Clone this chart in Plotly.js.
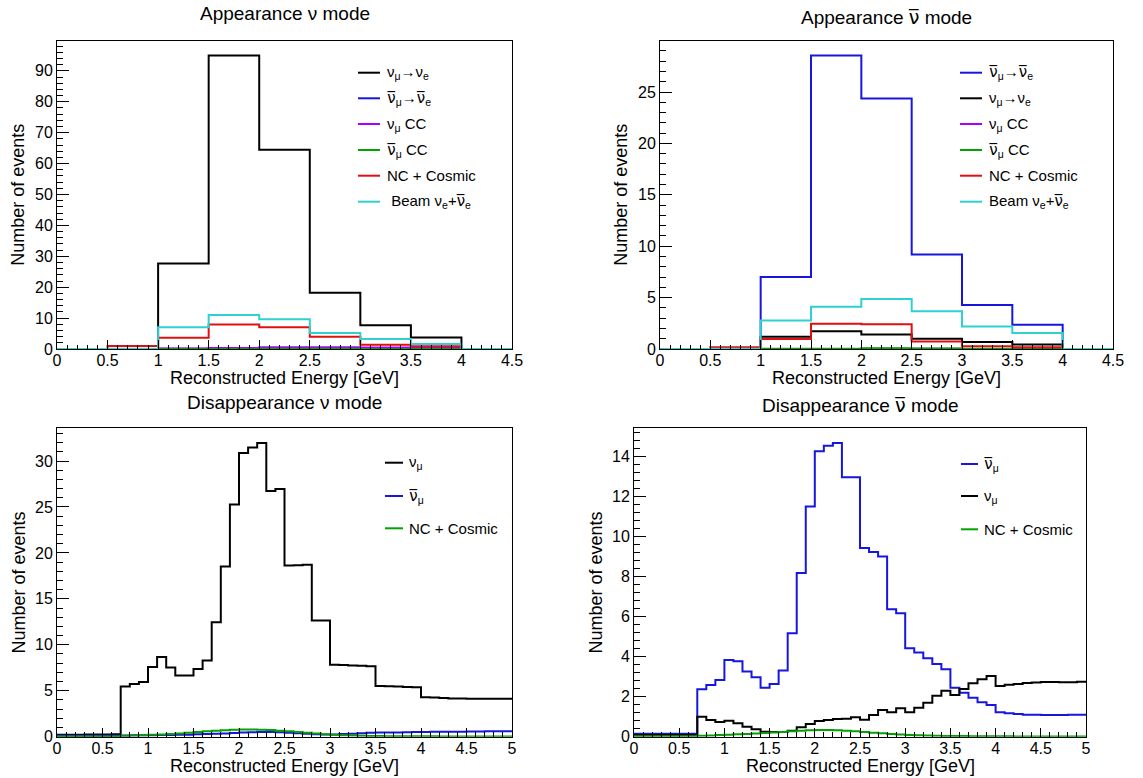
<!DOCTYPE html>
<html>
<head>
<meta charset="utf-8">
<script src="https://cdn.plot.ly/plotly-3.0.1.min.js"></script>
<style>
  html, body { margin: 0; padding: 0; background: #ffffff; }
  #plot { width: 1143px; height: 778px; }
</style>
</head>
<body>
<div id="plot"></div>
<script>
// ---------- Appearance spectra: 0.5 GeV bins, 0 - 4.5 GeV ----------
const appEdges = [0, 0.5, 1, 1.5, 2, 2.5, 3, 3.5, 4, 4.5];

// neutrino beam mode
const nuApp_numuNue     = [0, 0, 27.7, 95.0, 64.5, 18.2, 7.7, 3.7, 0];
const nuApp_numubarNue  = [0, 0, 0.1, 0.3, 0.3, 0.2, 0.15, 0.1, 0];
const nuApp_numuCC      = [0, 0, 0.2, 0.3, 0.6, 0.6, 0.5, 0.3, 0];
const nuApp_numubarCC   = [0, 0, 0, 0, 0.05, 0.05, 0, 0, 0];
const nuApp_ncCosmic    = [0, 1.0, 3.6, 7.9, 7.0, 4.0, 1.4, 0.9, 0];
const nuApp_beamNue     = [0, 0.05, 7.0, 11.0, 9.6, 5.2, 3.2, 1.6, 0];

// antineutrino beam mode
const anuApp_numubarNue = [0, 0, 7.0, 28.56, 24.37, 9.2, 4.28, 2.37, 0];
const anuApp_numuNue    = [0, 0, 1.2, 1.73, 1.4, 1.0, 0.67, 0.43, 0];
const anuApp_numuCC     = [0, 0, 0, 0, 0.02, 0.02, 0, 0, 0];
const anuApp_numubarCC  = [0, 0, 0.03, 0.03, 0.08, 0.06, 0.02, 0.01, 0];
const anuApp_ncCosmic   = [0, 0.16, 0.97, 2.46, 2.4, 0.73, 0.27, 0.17, 0];
const anuApp_beamNue    = [0, 0.02, 2.78, 4.12, 4.87, 3.67, 2.2, 1.56, 0];

// ---------- Disappearance spectra: 0.1 GeV bins, 0 - 5 GeV ----------
const disEdges = [0, 0.1, 0.2, 0.3, 0.4, 0.5, 0.6, 0.7, 0.8, 0.9,
                  1.0, 1.1, 1.2, 1.3, 1.4, 1.5, 1.6, 1.7, 1.8, 1.9,
                  2.0, 2.1, 2.2, 2.3, 2.4, 2.5, 2.6, 2.7, 2.8, 2.9,
                  3.0, 3.1, 3.2, 3.3, 3.4, 3.5, 3.6, 3.7, 3.8, 3.9,
                  4.0, 4.1, 4.2, 4.3, 4.4, 4.5, 4.6, 4.7, 4.8, 4.9, 5.0];

// neutrino beam mode
const nuDis_numu = [0.20, 0.21, 0.22, 0.23, 0.24, 0.25, 0.26,
                    5.45, 5.74, 5.96, 7.59, 8.68, 7.52, 6.65, 6.65,
                    7.37, 8.28, 12.46, 18.52, 25.28,
                    30.87, 31.48, 31.96, 26.73, 26.95,
                    18.63, 18.66, 18.70, 12.64, 12.64,
                    7.82, 7.79, 7.76, 7.72, 7.66,
                    5.52, 5.49, 5.46, 5.42, 5.38,
                    4.29, 4.26, 4.22, 4.16, 4.15, 4.14, 4.14, 4.13, 4.13, 4.12];
const nuDis_numubar = [0.10, 0.10, 0.10, 0.10, 0.10, 0.10, 0.10,
                       0.14, 0.15, 0.16, 0.17, 0.18, 0.18, 0.20, 0.22,
                       0.28, 0.30, 0.33, 0.36, 0.40,
                       0.45, 0.48, 0.50, 0.50, 0.48,
                       0.42, 0.38, 0.33, 0.28, 0.25,
                       0.25, 0.30, 0.33, 0.38, 0.42,
                       0.45, 0.45, 0.47, 0.48, 0.50,
                       0.52, 0.53, 0.54, 0.55, 0.55, 0.56, 0.57, 0.58, 0.59, 0.60];
const nuDis_ncCosmic = [0.03, 0.03, 0.03, 0.03, 0.03, 0.03, 0.03,
                        0.10, 0.12, 0.15, 0.20, 0.25, 0.30, 0.36, 0.42,
                        0.50, 0.58, 0.64, 0.70, 0.75,
                        0.78, 0.78, 0.76, 0.72, 0.66,
                        0.58, 0.50, 0.42, 0.34, 0.27,
                        0.20, 0.16, 0.13, 0.10, 0.08,
                        0.07, 0.06, 0.05, 0.05, 0.04,
                        0.04, 0.04, 0.03, 0.03, 0.03, 0.03, 0.02, 0.02, 0.02, 0.02];

// antineutrino beam mode
const anuDis_numubar = [0.15, 0.15, 0.15, 0.15, 0.15, 0.15, 0.15,
                        2.37, 2.58, 2.83, 3.83, 3.77, 3.25, 2.97, 2.45,
                        2.63, 3.30, 5.17, 8.18, 11.50,
                        14.25, 14.53, 14.67, 12.95, 12.95,
                        9.42, 9.22, 9.00, 6.37, 6.17,
                        4.42, 4.20, 3.92, 3.63, 3.37,
                        2.45, 2.20, 1.95, 1.72, 1.58,
                        1.22, 1.17, 1.13, 1.10, 1.09, 1.08, 1.08, 1.08, 1.09, 1.10];
const anuDis_numu = [0.08, 0.08, 0.08, 0.08, 0.08, 0.08, 0.08,
                     1.00, 0.83, 0.73, 0.80, 0.67, 0.50, 0.37, 0.25,
                     0.23, 0.23, 0.30, 0.47, 0.63,
                     0.78, 0.83, 0.88, 0.90, 0.97,
                     0.85, 1.08, 1.33, 1.22, 1.42,
                     1.22, 1.45, 1.70, 2.05, 2.30,
                     2.08, 2.38, 2.67, 2.87, 3.03,
                     2.53, 2.60, 2.63, 2.68, 2.71, 2.73, 2.73, 2.72, 2.72, 2.74];
const anuDis_ncCosmic = [0.02, 0.02, 0.02, 0.02, 0.02, 0.02, 0.02,
                         0.05, 0.06, 0.08, 0.10, 0.12, 0.14, 0.16, 0.19,
                         0.21, 0.24, 0.27, 0.30, 0.32,
                         0.33, 0.33, 0.32, 0.30, 0.27,
                         0.24, 0.20, 0.17, 0.14, 0.11,
                         0.09, 0.07, 0.06, 0.05, 0.04,
                         0.03, 0.03, 0.02, 0.02, 0.02,
                         0.02, 0.02, 0.01, 0.01, 0.01, 0.01, 0.01, 0.01, 0.01, 0.01];

// ---------- labels ----------
// antineutrino symbol: nu with a combining overline, set in a font that places the mark
const NU = 'ν';
const NUBAR = '<span style="font-family:DejaVu Sans">ν\u0305</span>';
const panelTitles = ['Appearance ' + NU + ' mode', 'Appearance ' + NUBAR + ' mode',
                     'Disappearance ' + NU + ' mode', 'Disappearance ' + NUBAR + ' mode'];
const xTitle = 'Reconstructed Energy [GeV]';
const yTitle = 'Number of events';

const COL = { black: '#000000', blue: '#1616e0', violet: '#a800ff', green: '#00a300',
              red: '#e01010', cyan: '#2ed0d0' };

const lbl = {
  numuNue:    NU + '<sub>μ</sub>→' + NU + '<sub>e</sub>',
  numubarNue: NUBAR + '<sub>μ</sub>→' + NUBAR + '<sub>e</sub>',
  numuCC:     NU + '<sub>μ</sub> CC',
  numubarCC:  NUBAR + '<sub>μ</sub> CC',
  nc:         'NC + Cosmic',
  beam:       'Beam ' + NU + '<sub>e</sub>+' + NUBAR + '<sub>e</sub>',
  numu:       NU + '<sub>μ</sub>',
  numubar:    NUBAR + '<sub>μ</sub>'
};

// series per panel, in legend order
const panels = [
  { edges: appEdges, series: [
      [lbl.numuNue, COL.black, nuApp_numuNue],
      [lbl.numubarNue, COL.blue, nuApp_numubarNue],
      [lbl.numuCC, COL.violet, nuApp_numuCC],
      [lbl.numubarCC, COL.green, nuApp_numubarCC],
      [lbl.nc, COL.red, nuApp_ncCosmic],
      ['\u00a0' + lbl.beam, COL.cyan, nuApp_beamNue]] },
  { edges: appEdges, series: [
      [lbl.numubarNue, COL.blue, anuApp_numubarNue],
      [lbl.numuNue, COL.black, anuApp_numuNue],
      [lbl.numuCC, COL.violet, anuApp_numuCC],
      [lbl.numubarCC, COL.green, anuApp_numubarCC],
      [lbl.nc, COL.red, anuApp_ncCosmic],
      [lbl.beam, COL.cyan, anuApp_beamNue]] },
  { edges: disEdges, series: [
      [lbl.numu, COL.black, nuDis_numu],
      [lbl.numubar, COL.blue, nuDis_numubar],
      [lbl.nc, COL.green, nuDis_ncCosmic]] },
  { edges: disEdges, series: [
      [lbl.numubar, COL.blue, anuDis_numubar],
      [lbl.numu, COL.black, anuDis_numu],
      [lbl.nc, COL.green, anuDis_ncCosmic]] }
];

// ---------- geometry (pixels on a 1143 x 778 page) ----------
const W = 1143, H = 778;
const px = v => v / W;
const py = v => 1 - v / H;

const frames = [
  { l: 57,  r: 512,  t: 40.7,  b: 349,   xmax: 4.5, ymax: 99.75, ydt: 10, ymin: 2,   titleY: 14,
    leg: { x0: 358, x1: 380, tx: 385, rows: [72.7, 98.3, 124, 150, 175.7, 201.7] } },
  { l: 660, r: 1113, t: 40.7,  b: 349,   xmax: 4.5, ymax: 29.99, ydt: 5,  ymin: 1,   titleY: 17,
    leg: { x0: 960, x1: 982, tx: 987, rows: [72.7, 98.3, 124, 150, 175.7, 201.7] } },
  { l: 57,  r: 512,  t: 428.3, b: 736.7, xmax: 5,   ymax: 33.56, ydt: 5,  ymin: 1,   titleY: 403,
    leg: { x0: 385, x1: 403, tx: 407, rows: [462.7, 496, 528.3] } },
  { l: 634, r: 1086, t: 428.3, b: 736.7, xmax: 5,   ymax: 15.4,  ydt: 2,  ymin: 0.4, titleY: 405,
    leg: { x0: 961, x1: 978, tx: 982, rows: [464, 496, 529.3] } }
];

const FONT = 'Liberation Sans, Arial, Helvetica, sans-serif';
const traces = [];
const layout = {
  width: W, height: H, autosize: false,
  margin: { l: 0, r: 0, t: 0, b: 0, pad: 0 },
  paper_bgcolor: '#ffffff', plot_bgcolor: '#ffffff',
  showlegend: false, hovermode: false,
  font: { family: FONT, color: '#000000' },
  annotations: [], shapes: []
};

panels.forEach((p, i) => {
  const f = frames[i];
  const sfx = i === 0 ? '' : String(i + 1);
  const xa = 'x' + sfx, ya = 'y' + sfx;

  // histogram outlines as steps over the bin edges
  p.series.forEach(s => {
    const vals = s[2];
    traces.push({
      type: 'scatter', mode: 'lines', xaxis: xa, yaxis: ya,
      x: p.edges, y: vals.concat([vals[vals.length - 1]]),
      line: { shape: 'hv', color: s[1], width: 2 },
      cliponaxis: false, name: s[0]
    });
  });

  const common = {
    showline: true, linecolor: '#000000', linewidth: 1, mirror: true,
    showgrid: false, zeroline: false, ticks: 'inside', tickcolor: '#000000', tickwidth: 1,
    tickfont: { family: FONT, size: 16, color: '#000000' }, fixedrange: true
  };
  layout['xaxis' + sfx] = Object.assign({}, common, {
    domain: [px(f.l), px(f.r)], anchor: ya, range: [0, f.xmax],
    tick0: 0, dtick: 0.5, ticklen: 9, ticklabelstandoff: -3,
    minor: { ticks: 'inside', ticklen: 4.5, dtick: 0.1, tick0: 0, tickcolor: '#000000', tickwidth: 1 }
  });
  layout['yaxis' + sfx] = Object.assign({}, common, {
    domain: [py(f.b), py(f.t)], anchor: xa, range: [0, f.ymax],
    tick0: 0, dtick: f.ydt, ticklen: 12,
    minor: { ticks: 'inside', ticklen: 6, dtick: f.ymin, tick0: 0, tickcolor: '#000000', tickwidth: 1 }
  });

  const cx = (f.l + f.r) / 2;
  // panel title
  layout.annotations.push({ xref: 'paper', yref: 'paper', x: px(cx), y: py(f.titleY),
    xanchor: 'center', yanchor: 'middle', showarrow: false, text: panelTitles[i],
    font: { family: FONT, size: 19, color: '#000000' } });
  // axis titles
  layout.annotations.push({ xref: 'paper', yref: 'paper', x: px(cx), y: py(f.b + 29),
    xanchor: 'center', yanchor: 'middle', showarrow: false, text: xTitle,
    font: { family: FONT, size: 18, color: '#000000' } });
  layout.annotations.push({ xref: 'paper', yref: 'paper', x: px(f.l - 39), y: py((f.t + f.b) / 2),
    xanchor: 'center', yanchor: 'middle', showarrow: false, text: yTitle, textangle: -90,
    font: { family: FONT, size: 18, color: '#000000' } });

  // legend: line sample + label per series
  p.series.forEach((s, k) => {
    const yy = f.leg.rows[k];
    layout.shapes.push({ type: 'line', xref: 'paper', yref: 'paper',
      x0: px(f.leg.x0), x1: px(f.leg.x1), y0: py(yy), y1: py(yy),
      line: { color: s[1], width: 2 } });
    layout.annotations.push({ xref: 'paper', yref: 'paper', x: px(f.leg.tx), y: py(yy),
      xanchor: 'left', yanchor: 'middle', showarrow: false, text: s[0],
      font: { family: FONT, size: 15, color: '#000000' } });
  });
});

Plotly.newPlot('plot', traces, layout, { staticPlot: true, displayModeBar: false });
</script>
</body>
</html>
